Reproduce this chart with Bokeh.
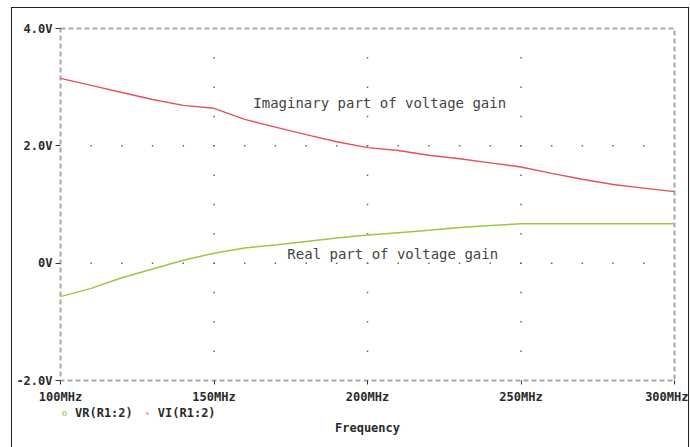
import numpy as np
from bokeh.plotting import figure
from bokeh.layouts import column
from bokeh.models import (ColumnDataSource, FixedTicker, Label, Legend, LegendItem, Range1d)
from bokeh.embed import file_html
from bokeh.resources import INLINE

# ---- data ----
freq_mhz = [100, 110, 120, 130, 140, 150, 160, 170, 180, 190, 200,
            210, 220, 230, 240, 250, 260, 270, 280, 290, 300]
vi_imag = [3.15, 3.03, 2.91, 2.79, 2.69, 2.64, 2.45, 2.32, 2.19, 2.07, 1.97,
           1.92, 1.84, 1.78, 1.71, 1.64, 1.53, 1.43, 1.34, 1.28, 1.22]
vr_real = [-0.57, -0.43, -0.25, -0.10, 0.05, 0.17, 0.26, 0.31, 0.37, 0.43, 0.48,
           0.52, 0.56, 0.61, 0.64, 0.67, 0.67, 0.67, 0.67, 0.67, 0.67]
x_ticks = [100, 150, 200, 250, 300]
x_tick_labels = ["100MHz", "150MHz", "200MHz", "250MHz", "300MHz"]
y_ticks = [-2, 0, 2, 4]
y_tick_labels = ["-2.0V", "0V", "2.0V", "4.0V"]
series_names = ["VR(R1:2)", "VI(R1:2)"]
x_title = "Frequency"
notes = ["Imaginary part of voltage gain", "Real part of voltage gain"]
notes_x = [162.8, 173.9]
notes_y = [2.73, 0.16]

RED = "#e6505e"
GREEN = "#9cc83e"
MONO = "DejaVu Sans Mono"
TXT = "#2a2a2a"

W = 676
p = figure(width=W, height=398, output_backend="svg", toolbar_location=None,
           x_range=Range1d(x_ticks[0], x_ticks[-1]), y_range=Range1d(y_ticks[0], y_ticks[-1]),
           min_border_left=48, min_border_right=14, min_border_top=20, min_border_bottom=23)
p.xgrid.visible = False
p.ygrid.visible = False
p.background_fill_color = "white"
p.border_fill_color = "white"
p.outline_line_color = "#a6a6a6"
p.outline_line_width = 2
p.outline_line_dash = "5 3"

# grid dots
gx, gy = [], []
for xv in x_ticks[1:-1]:
    for yv in np.arange(y_ticks[0] + 0.5, y_ticks[-1], 0.5):
        gx.append(xv); gy.append(yv)
for yv in y_ticks[1:-1]:
    for xv in np.arange(x_ticks[0] + 10, x_ticks[-1], 10):
        gx.append(xv); gy.append(yv)
p.scatter(gx, gy, marker="square", size=1.5, fill_color="#666666", line_color=None)

src = ColumnDataSource(dict(f=freq_mhz, vi=vi_imag, vr=vr_real))
p.line("f", "vi", source=src, line_color=RED, line_width=1.4)
p.line("f", "vr", source=src, line_color=GREEN, line_width=1.5)

for t, xv, yv in zip(notes, notes_x, notes_y):
    p.add_layout(Label(x=xv, y=yv, text=t, text_font=MONO, text_font_size="14px",
                       text_color="#444444", text_baseline="middle", text_align="left"))

# axes
for ax in (p.xaxis[0], p.yaxis[0]):
    ax.axis_line_color = None
    ax.major_tick_line_color = "#333333"
    ax.major_tick_in = 0
    ax.minor_tick_line_color = None
    ax.major_label_text_font = MONO
    ax.major_label_text_font_style = "bold"
    ax.major_label_text_font_size = "12px"
    ax.major_label_text_color = TXT
p.xaxis.ticker = FixedTicker(ticks=x_ticks)
p.xaxis.major_label_overrides = {t: l for t, l in zip(x_ticks, x_tick_labels)}
p.xaxis.major_tick_out = 4
p.xaxis.major_label_standoff = 5
p.yaxis.ticker = FixedTicker(ticks=y_ticks)
p.yaxis.major_label_overrides = {t: l for t, l in zip(y_ticks, y_tick_labels)}
p.yaxis.major_tick_out = 5
p.yaxis.major_label_standoff = 3

# ---- lower strip: legend and x title (frame aligns with the chart's frame) ----
H2 = 41
q = figure(width=W, height=H2, output_backend="svg", toolbar_location=None,
           x_axis_location=None, y_axis_location=None,
           x_range=Range1d(x_ticks[0], x_ticks[-1]), y_range=Range1d(0, H2),
           min_border_left=0, min_border_right=0, min_border_top=0, min_border_bottom=0)
q.xgrid.visible = False
q.ygrid.visible = False
q.outline_line_color = None
q.background_fill_color = "white"
q.border_fill_color = "white"

r_sq = q.scatter("f", "vr", source=src, marker="square", size=5,
                 fill_color=None, line_color=GREEN, line_width=1, visible=False)
r_di = q.scatter("f", "vi", source=src, marker="diamond", size=7,
                 fill_color="#f2a8a8", line_color="#f2a8a8", visible=False)
legend = Legend(items=[LegendItem(label=series_names[0], renderers=[r_sq]),
                       LegendItem(label=series_names[1], renderers=[r_di])],
                location=(0, 27), orientation="horizontal",
                border_line_color=None, background_fill_alpha=0,
                inactive_fill_alpha=0,
                label_text_font=MONO, label_text_font_style="bold",
                label_text_font_size="12px", label_text_color=TXT,
                glyph_width=8, glyph_height=8, label_standoff=7, spacing=10,
                padding=0, margin=0, label_height=14)
q.add_layout(legend, "center")
q.add_layout(Label(x=x_ticks[2], y=20, text=x_title, text_font=MONO, text_font_style="bold",
                   text_font_size="12px", text_color=TXT, text_align="center",
                   text_baseline="middle"))

layout = column(p, q, spacing=0,
                styles={"margin-left": "11px", "margin-top": "7px",
                        "border-left": "1px solid #222", "border-top": "1px solid #222",
                        "border-right": "1px solid #222"})

open("out.html", "w").write(file_html(layout, INLINE))
